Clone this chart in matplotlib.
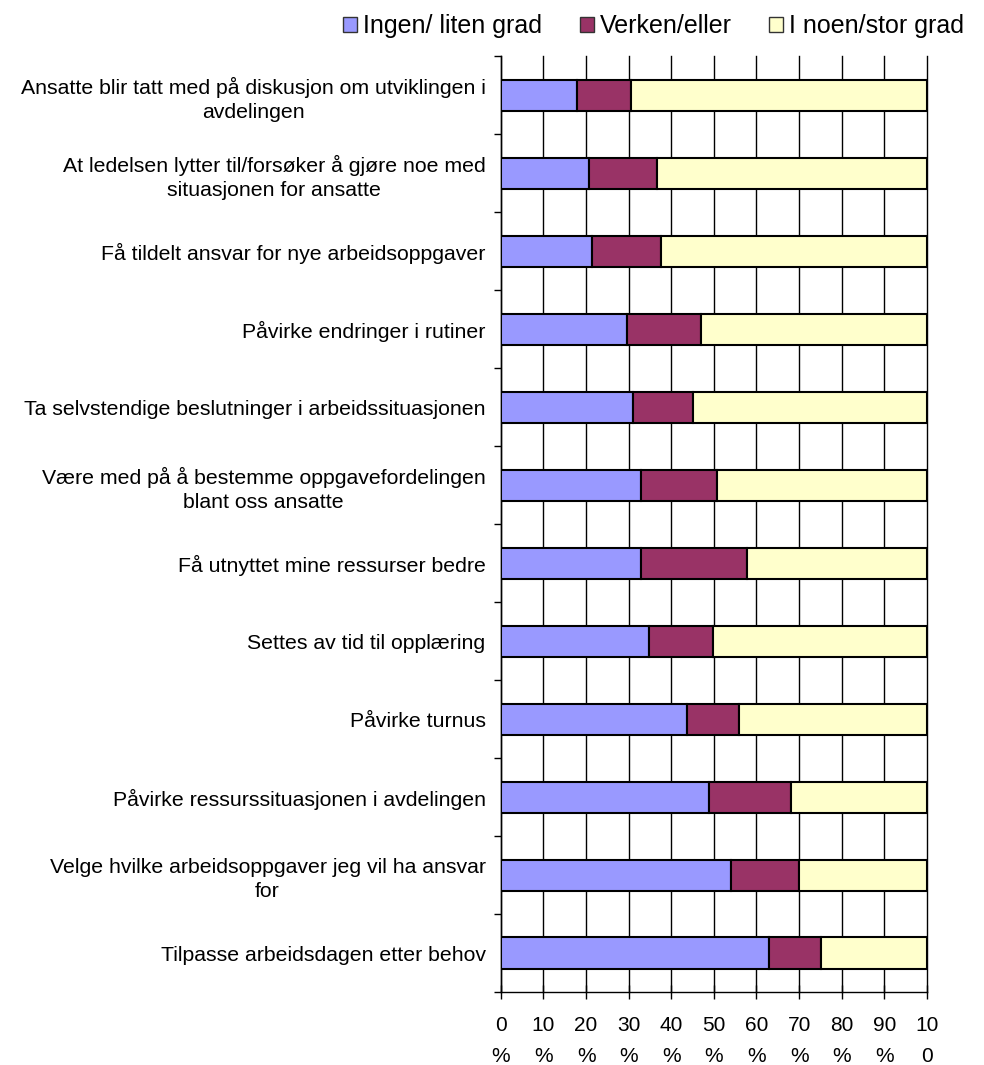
import numpy as np
from matplotlib import pyplot as plt
from matplotlib.patches import Patch

plt.rcParams['font.family'] = ['Liberation Sans', 'DejaVu Sans']

# statements, top to bottom
categories = [
    "Ansatte blir tatt med på diskusjon om utviklingen i\navdelingen",
    "At ledelsen lytter til/forsøker å gjøre noe med\nsituasjonen for ansatte",
    "Få tildelt ansvar for nye arbeidsoppgaver",
    "Påvirke endringer i rutiner",
    "Ta selvstendige beslutninger i arbeidssituasjonen",
    "Være med på å bestemme oppgavefordelingen\nblant oss ansatte",
    "Få utnyttet mine ressurser bedre",
    "Settes av tid til opplæring",
    "Påvirke turnus",
    "Påvirke ressurssituasjonen i avdelingen",
    "Velge hvilke arbeidsoppgaver jeg vil ha ansvar\nfor",
    "Tilpasse arbeidsdagen etter behov",
]
ingen = [17.8, 20.7, 21.5, 29.5, 31.0, 32.9, 32.9, 34.7, 43.7, 48.8, 54.0, 62.9]
verken = [12.7, 15.9, 16.1, 17.5, 14.1, 17.8, 24.9, 15.0, 12.2, 19.3, 16.0, 12.3]
noen = [100 - a - b for a, b in zip(ingen, verken)]

series_names = ["Ingen/ liten grad", "Verken/eller", "I noen/stor grad"]
colors = ['#9999FF', '#993366', '#FFFFCC']
xtick_labels = ["0\n%", "10\n%", "20\n%", "30\n%", "40\n%", "50\n%",
                "60\n%", "70\n%", "80\n%", "90\n%", "10\n0"]

fig = plt.figure(figsize=(9.84, 10.65), dpi=100)
ax = fig.add_axes([0.509, 0.0685, 0.433, 0.8785])

y = np.arange(len(categories))
left = np.zeros(len(categories))
for vals, col, name in zip([ingen, verken, noen], colors, series_names):
    ax.barh(y, vals, left=left, height=0.4, color=col, edgecolor='black',
            linewidth=1.5, label=name, zorder=3)
    left += np.array(vals)

ax.set_xlim(0, 100)
ax.set_ylim(len(categories) - 0.5, -0.5)

ax.set_xticks(np.arange(0, 101, 10))
ax.set_xticklabels(xtick_labels, fontsize=15, linespacing=1.8)
ax.tick_params(axis='x', direction='inout', length=10, width=1, pad=12)
ax.xaxis.grid(True, color='black', linewidth=1, zorder=0)
for gl in ax.get_xgridlines():
    gl.set_clip_on(False)

ax.set_yticks(y)
ax.set_yticklabels(categories, fontsize=15.3, multialignment='center',
                   linespacing=1.3)
ax.tick_params(axis='y', which='major', length=0, pad=11)
ax.set_yticks(np.arange(-0.5, len(categories) + 0.5, 1), minor=True)
ax.tick_params(axis='y', which='minor', direction='out', length=5, width=1)

for side in ['top', 'right']:
    ax.spines[side].set_visible(False)
ax.spines['left'].set_linewidth(1)
ax.spines['bottom'].set_linewidth(1)

handles = [Patch(facecolor=c, edgecolor='#333333', linewidth=1) for c in colors]
fig.legend(handles, series_names, loc='upper right', bbox_to_anchor=(1.003, 1.008),
           ncol=3, frameon=False, fontsize=18, handlelength=0.55,
           handleheight=0.55, handletextpad=0.25, columnspacing=1.5)

fig.savefig('out.png', dpi=100, facecolor='white')
